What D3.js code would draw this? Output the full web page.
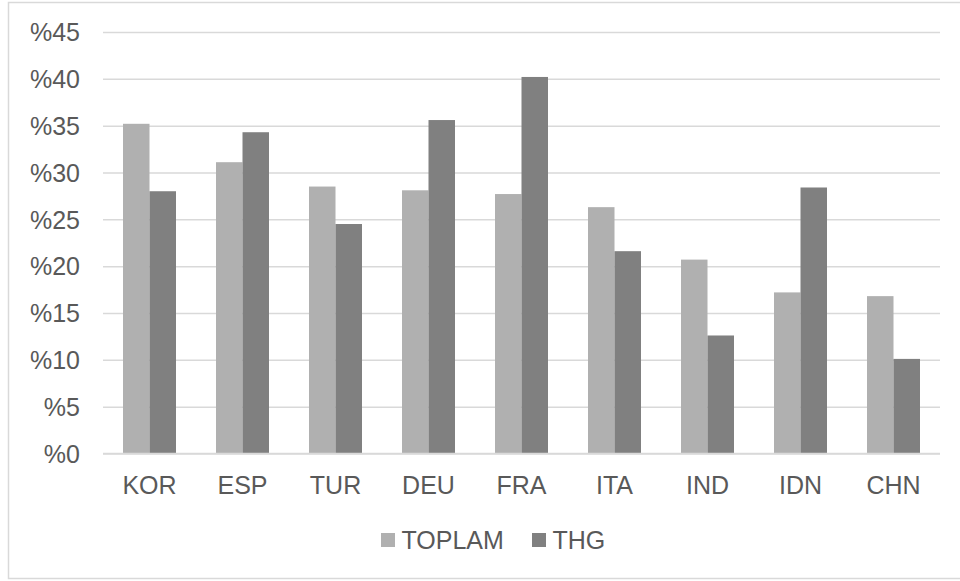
<!DOCTYPE html>
<html>
<head>
<meta charset="utf-8">
<script src="https://cdn.jsdelivr.net/npm/d3@7/dist/d3.min.js"></script>
<style>
  html, body { margin: 0; padding: 0; background: #fff; }
  svg { display: block; }
  text { font-family: "Liberation Sans", Arial, sans-serif; fill: #595959; }
</style>
</head>
<body>
<svg id="chart" width="960" height="581"></svg>
<script>
const categories = ["KOR", "ESP", "TUR", "DEU", "FRA", "ITA", "IND", "IDN", "CHN"];
const seriesNames = ["TOPLAM", "THG"];
const toplam = [35.2, 31.1, 28.5, 28.1, 27.7, 26.3, 20.7, 17.2, 16.8];
const thg = [28.0, 34.3, 24.5, 35.6, 40.2, 21.6, 12.6, 28.4, 10.1];
const yTicks = [0, 5, 10, 15, 20, 25, 30, 35, 40, 45];
const colors = ["#b0b0b0", "#808080"];

(function () {
const svg = d3.select("#chart");
const W = 960;
const pLeft = 103, pRight = 940, pTop = 32, pBottom = 453.5;

svg.append("rect")
  .attr("x", 8.5).attr("y", 2.5)
  .attr("width", W).attr("height", 576)
  .attr("fill", "#fff").attr("stroke", "#d9d9d9").attr("stroke-width", 1.5);

const x = d3.scaleBand().domain(categories).range([pLeft, pRight]).paddingInner(0).paddingOuter(0);
const y = d3.scaleLinear().domain([0, 45]).range([pBottom, pTop]);
const groupW = x.bandwidth() * 0.57;
const xs = d3.scaleBand().domain(seriesNames).range([0, groupW]);

// gridlines
const yAxis = d3.axisLeft(y).tickValues(yTicks).tickSize(-(pRight - pLeft)).tickFormat(d => "%" + d);
const gy = svg.append("g").attr("transform", `translate(${pLeft},0)`).call(yAxis);
gy.select(".domain").remove();
gy.selectAll(".tick line").attr("stroke", "#d9d9d9").attr("stroke-width", 1.5);
gy.selectAll(".tick text")
  .attr("x", -23).attr("dy", "0.35em")
  .style("font-size", "25px").attr("fill", "#595959");

// bars
const data = categories.map((c, i) => ({ c, vals: [toplam[i], thg[i]] }));
const groups = svg.append("g").selectAll("g").data(data).join("g")
  .attr("transform", d => `translate(${x(d.c) + (x.bandwidth() - groupW) / 2},0)`);
groups.selectAll("rect").data(d => d.vals.map((v, j) => ({ v, s: seriesNames[j], j })))
  .join("rect")
  .attr("x", d => xs(d.s))
  .attr("width", xs.bandwidth())
  .attr("y", d => y(d.v))
  .attr("height", d => y(0) - y(d.v))
  .attr("fill", d => colors[d.j]);

// baseline
svg.append("line").attr("x1", pLeft).attr("x2", pRight).attr("y1", y(0)).attr("y2", y(0))
  .attr("stroke", "#d9d9d9").attr("stroke-width", 1.5);

// x axis labels
const xAxis = d3.axisBottom(x).tickSize(0);
const gx = svg.append("g").attr("transform", `translate(0,${pBottom})`).call(xAxis);
gx.select(".domain").remove();
gx.selectAll(".tick text").attr("y", 40.5).attr("dy", 0)
  .style("font-size", "25px").attr("fill", "#595959");

// legend
const legendItems = [
  { name: seriesNames[0], sx: 381, tx: 401.5, color: colors[0] },
  { name: seriesNames[1], sx: 532, tx: 552.5, color: colors[1] }
];
const lg = svg.append("g");
legendItems.forEach(it => {
  lg.append("rect").attr("x", it.sx).attr("y", 533).attr("width", 14).attr("height", 14).attr("fill", it.color);
  lg.append("text").attr("x", it.tx).attr("y", 549).style("font-size", "25px").text(it.name);
});
})();
</script>
</body>
</html>
